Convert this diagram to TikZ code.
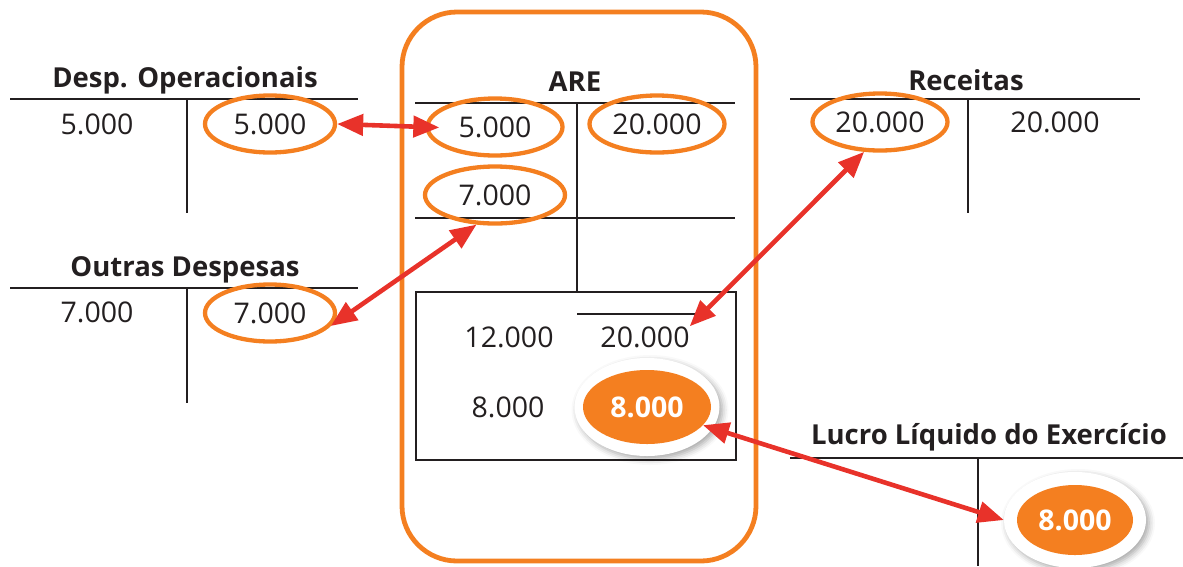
\documentclass[tikz,border=0pt]{standalone}
\usepackage{fontspec}
\setmainfont{Open Sans}
\usetikzlibrary{shapes.geometric,arrows.meta,shadows.blur}
\definecolor{org}{HTML}{F47F20}
\definecolor{arr}{HTML}{E8322A}
\definecolor{ink}{HTML}{231F20}
\begin{document}
\begin{tikzpicture}[x=1pt,y=-1pt,
 num/.style={font=\fontsize{28.5}{32}\selectfont, text=ink, inner sep=0pt},
 ttl/.style={font=\bfseries\fontsize{27.5}{30}\selectfont, text=ink, inner sep=0pt},
 ring/.style={ellipse, draw=org, line width=4.3pt, minimum width=130pt, minimum height=57pt, num},
 tl/.style={draw=ink, line width=2.2pt},
 dbl/.style={draw=arr, line width=4.6pt, {Triangle[length=26pt,width=21pt]}-{Triangle[length=26pt,width=21pt]}},
 halo/.style={ellipse, fill=white, minimum width=145pt, minimum height=98pt, blur shadow={shadow xshift=3pt, shadow yshift=-3pt, shadow blur radius=6pt, shadow opacity=35}},
 blob/.style={ellipse, fill=org, text=white, font=\bfseries\fontsize{28.5}{32}\selectfont, minimum width=128pt, minimum height=74pt, inner sep=0pt}]
\useasboundingbox (0,0) rectangle (1183,566);
% ARE frame
\draw[org, line width=4.8pt, rounded corners=55pt] (402,12) rectangle (756,561);
% Desp. Operacionais
\node[ttl] (t1) at (185,80) {Desp. Operacionais};
\draw[tl] (10,99) -- (358,99);
\draw[tl] (187,99) -- (187,213);
\node[num] (d1) at (97,124) {5.000};
\node[ring] (d2) at (270,124) {5.000};
% Outras Despesas
\node[ttl] (t2) at (185,270) {Outras Despesas};
\draw[tl] (10,288) -- (358,288);
\draw[tl] (187,288) -- (187,403);
\node[num] (o1) at (97,312) {7.000};
\node[ring] (o2) at (270,313) {7.000};
% ARE
\node[ttl] (t3) at (575,82) {ARE};
\draw[tl] (415,103) -- (735,103);
\draw[tl] (577,103) -- (577,292);
\draw[tl] (415,218) -- (735,218);
\node[ring, minimum width=135pt] (a1) at (495,127) {5.000};
\node[ring, minimum width=135pt] (a2) at (657,124) {20.000};
\node[ring, minimum width=140pt] (a3) at (495,195) {7.000};
\draw[tl] (416,292) rectangle (736,460);
\draw[tl] (577,314) -- (713,314);
\node[num] (b1) at (509,337) {12.000};
\node[num] (b2) at (645,337) {20.000};
\node[num] (b3) at (508,407) {8.000};
\node[halo] (h1) at (647,407) {};
\node[blob] (r1) at (647,407) {8.000};
% Receitas
\node[ttl] (t4) at (966,80) {Receitas};
\draw[tl] (790,99) -- (1140,99);
\draw[tl] (968,99) -- (968,213);
\node[ring, minimum width=135pt] (c1) at (880,122) {20.000};
\node[num] (c2) at (1055,122) {20.000};
% Lucro
\node[ttl] (t5) at (989,437) {Lucro Líquido do Exercício};
\draw[tl] (790,458) -- (1183,458);
\draw[tl] (978,458) -- (978,566);
\node[halo, minimum width=142pt, minimum height=96pt] (h2) at (1075,520) {};
\node[blob, minimum width=116pt, minimum height=70pt] (r2) at (1075,520) {8.000};
% arrows
\draw[dbl, shorten >=-14pt] (d2.east) -- (a1.west);
\draw[dbl] (a3.-122) -- (o2.-12);
\draw[dbl] (c1.-118) -- (b2.north east);
\draw[dbl] (r1.-18) -- (h2.west);
\end{tikzpicture}
\end{document}
